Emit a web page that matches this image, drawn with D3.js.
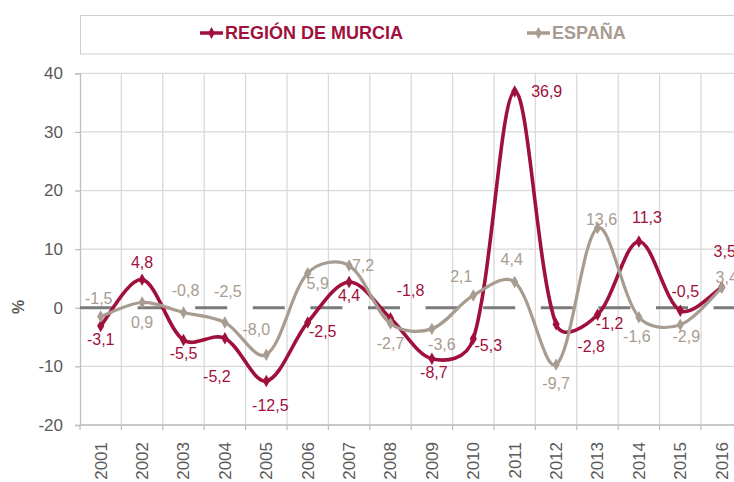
<!DOCTYPE html>
<html>
<head>
<meta charset="utf-8">
<script src="https://cdn.jsdelivr.net/npm/d3@7"></script>
<style>
  html, body { margin: 0; padding: 0; background: #ffffff; }
  svg { display: block; font-family: "Liberation Sans", Arial, sans-serif; }
</style>
</head>
<body>
<svg id="chart" width="734" height="482"></svg>
<script>
// ---- data ----
const years = ["2001","2002","2003","2004","2005","2006","2007","2008","2009","2010","2011","2012","2013","2014","2015","2016"];
const murcia = [-3.1, 4.8, -5.5, -5.2, -12.5, -2.5, 4.4, -1.8, -8.7, -5.3, 36.9, -2.8, -1.2, 11.3, -0.5, 3.5];
const espana = [-1.5, 0.9, -0.8, -2.5, -8.0, 5.9, 7.2, -2.7, -3.6, 2.1, 4.4, -9.7, 13.6, -1.6, -2.9, 3.4];
const yTicks = [-20, -10, 0, 10, 20, 30, 40];
const seriesNames = ["REGIÓN DE MURCIA", "ESPAÑA"];

// label placement offsets (dx, dy from the point)
const murciaLabelOff = [[0,13],[0,-17],[0,13],[-8,38],[4,24],[15,9],[0,13],[20,-28],[2,14],[15,7],[32,0],[35,22],[12,9],[8,-24],[5,-19],[3,-36]];
const espanaLabelOff = [[-2,-18],[0,20],[2,-22],[3,-31],[-10,-25],[10,10],[14,0],[0,20],[10,16],[-12,-19],[-3,-23],[0,19],[4,-9],[-2,19],[6,12],[5,-10]];

(function () {
const RED = "#a0103c";
const GREY = "#a89c90";
const TXT = "#595959";
const GRID = "#d9d9d9";

// Spreadsheet-style smoothing: Catmull-Rom tangents, handle lengths scaled per side by chord length
function smoothCurve(context) {
  let pts;
  const K = 0.6;
  const dist = (a, b) => Math.hypot(b[0] - a[0], b[1] - a[1]);
  return {
    areaStart() {}, areaEnd() {},
    lineStart() { pts = []; },
    point(x, y) { pts.push([+x, +y]); },
    lineEnd() {
      const n = pts.length;
      if (!n) return;
      context.moveTo(pts[0][0], pts[0][1]);
      const handles = pts.map((p, i) => {
        const a = pts[Math.max(0, i - 1)], b = pts[Math.min(n - 1, i + 1)];
        const t = [(b[0] - a[0]) / 6, (b[1] - a[1]) / 6];
        const dl = dist(a, p), dr = dist(p, b);
        let fl = 1, fr = 1;
        if (i > 0 && i < n - 1 && dl + dr > 0) {
          fl = Math.pow(2 * dl / (dl + dr), K);
          fr = Math.pow(2 * dr / (dl + dr), K);
        }
        return {in: [p[0] - t[0] * fl, p[1] - t[1] * fl], out: [p[0] + t[0] * fr, p[1] + t[1] * fr]};
      });
      for (let i = 0; i < n - 1; i++) {
        const c1 = handles[i].out, c2 = handles[i + 1].in, p = pts[i + 1];
        context.bezierCurveTo(c1[0], c1[1], c2[0], c2[1], p[0], p[1]);
      }
    }
  };
}

const svg = d3.select("#chart");
svg.append("rect").attr("width", 734).attr("height", 482).attr("fill", "#fff");

const pL = 80, pR = 742.4, pT = 73.3, pB = 425;
const x = d3.scaleBand().domain(years).range([pL, pR]).padding(0);
const y = d3.scaleLinear().domain([-20, 40]).range([pB, pT]);
const cx = d => x(d) + x.bandwidth() / 2;

// legend box
svg.append("rect").attr("x", 80.5).attr("y", 15.5).attr("width", 700).attr("height", 38.5)
  .attr("fill", "none").attr("stroke", "#cfcfcf").attr("stroke-width", 1);

const legendItems = [
  {name: seriesNames[0], color: RED, x0: 200},
  {name: seriesNames[1], color: GREY, x0: 527}
];
const diamond = d3.symbol().type(d3.symbolDiamond);
legendItems.forEach(it => {
  svg.append("line").attr("x1", it.x0).attr("x2", it.x0 + 23).attr("y1", 33).attr("y2", 33)
    .attr("stroke", it.color).attr("stroke-width", 3.5);
  svg.append("path").attr("d", diamond.size(40)()).attr("transform", `translate(${it.x0 + 11.5},33)`).attr("fill", it.color);
  svg.append("text").attr("x", it.x0 + 25).attr("y", 33).attr("dy", "0.35em")
    .attr("font-size", 18).attr("font-weight", "bold").attr("fill", it.color).text(it.name);
});

// horizontal gridlines
svg.append("g").selectAll("line").data(yTicks.filter(t => t !== 0)).join("line")
  .attr("x1", pL).attr("x2", pR).attr("y1", d => y(d)).attr("y2", d => y(d))
  .attr("stroke", GRID).attr("stroke-width", 1.3);

// vertical gridlines at category boundaries
const bounds = years.map(d => x(d)).concat([pR]);
svg.append("g").selectAll("line").data(bounds.slice(1)).join("line")
  .attr("x1", d => d).attr("x2", d => d).attr("y1", pT).attr("y2", pB)
  .attr("stroke", GRID).attr("stroke-width", 1.3);

// y axis
const yAxis = d3.axisLeft(y).tickValues(yTicks).tickSize(5).tickPadding(8).tickFormat(d3.format("d"));
const gy = svg.append("g").attr("transform", `translate(${pL},0)`).call(yAxis);
gy.select(".domain").attr("stroke", "#bfbfbf").attr("stroke-width", 1.3);
gy.selectAll(".tick line").attr("stroke", "#bfbfbf").attr("stroke-width", 1.3);
gy.selectAll(".tick text").attr("fill", TXT).attr("font-size", 17).attr("font-family", "Liberation Sans, Arial, sans-serif").attr("x", -17)
  .text(d => d3.format("d")(d).replace("−", "-"));

// x axis
const gx = svg.append("g").attr("transform", `translate(0,${pB})`);
gx.append("line").attr("x1", pL).attr("x2", pR).attr("y1", 0).attr("y2", 0).attr("stroke", "#bfbfbf").attr("stroke-width", 1.3);
gx.selectAll("line.tk").data(bounds).join("line").attr("class", "tk")
  .attr("x1", d => d).attr("x2", d => d).attr("y1", 0).attr("y2", 5).attr("stroke", "#bfbfbf").attr("stroke-width", 1.3);
gx.selectAll("text").data(years).join("text")
  .attr("transform", d => `translate(${cx(d)},17) rotate(-90)`)
  .attr("text-anchor", "end").attr("dy", "0.35em")
  .attr("font-size", 17).attr("fill", TXT).text(d => d);

// y title
svg.append("text").attr("transform", "translate(18,307) rotate(-90)").attr("text-anchor", "middle")
  .attr("dy", "0.35em").attr("font-size", 16).attr("font-weight", "bold").attr("fill", TXT).text("%");

// zero dashed line
svg.append("line").attr("x1", pL).attr("x2", pR).attr("y1", y(0)).attr("y2", y(0))
  .attr("stroke", "#7a7a7a").attr("stroke-width", 3).attr("stroke-dasharray", "32 25.6");

// series
const line = d3.line().x((d, i) => cx(years[i])).y(d => y(d)).curve(smoothCurve);
const series = [
  {vals: murcia, color: RED, w: 3.6, off: murciaLabelOff},
  {vals: espana, color: GREY, w: 3.2, off: espanaLabelOff}
];
series.forEach(s => {
  svg.append("path").datum(s.vals).attr("d", line).attr("fill", "none")
    .attr("stroke", s.color).attr("stroke-width", s.w).attr("stroke-linejoin", "round");
  svg.append("g").selectAll("path").data(s.vals).join("path")
    .attr("d", diamond.size(45)())
    .attr("transform", (d, i) => `translate(${cx(years[i])},${y(d)})`)
    .attr("fill", s.color);
});

// data labels
const fmt = v => d3.format(".1f")(v).replace(".", ",").replace("−", "-");
series.forEach(s => {
  svg.append("g").selectAll("text").data(s.vals).join("text")
    .attr("x", (d, i) => cx(years[i]) + s.off[i][0])
    .attr("y", (d, i) => y(d) + s.off[i][1])
    .attr("dy", "0.35em").attr("text-anchor", "middle")
    .attr("font-size", 16).attr("fill", s.color).text(d => fmt(d));
});
})();
</script>
</body>
</html>
